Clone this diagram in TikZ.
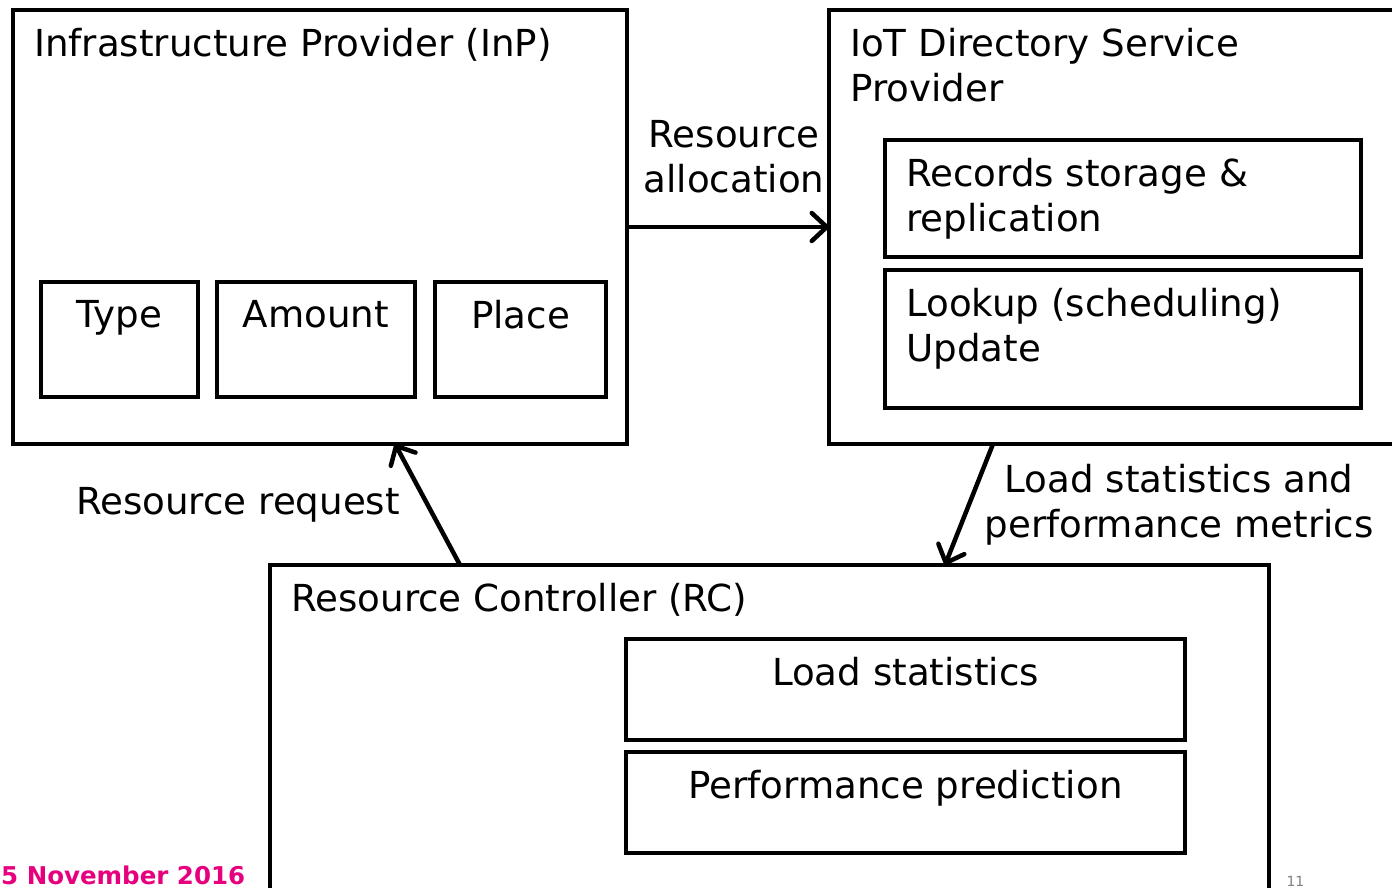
\documentclass[tikz,border=0pt]{standalone}
\usepackage{fontspec}
\setmainfont{DejaVu Sans}
\usetikzlibrary{arrows.meta,calc}
\definecolor{datepink}{RGB}{230,0,126}

\begin{document}
\begin{tikzpicture}[
    x=1pt, y=-1pt,
    every node/.style={font=\fontsize{37.2}{45}\selectfont},
    box/.style={rectangle, draw, line width=4.5pt, outer sep=0pt, inner sep=0pt, anchor=north west},
    title/.style={anchor=north west, inner xsep=21pt, inner ysep=18pt, align=left},
    caption/.style={anchor=north, inner sep=0pt, yshift=-18pt},
    flow/.style={line width=4.5pt, -{Straight Barb[length=15pt, width=28pt, round]}}
]
\useasboundingbox (0,0) rectangle (1392,888);

% infrastructure provider
\node [box, minimum width=614pt, minimum height=434pt,
       label={[title]north west:Infrastructure Provider (InP)}] (inp) at (13,10) {};
\node [box, minimum width=157pt, minimum height=115pt,
       label={[caption]north:Type}] (type) at (41,282) {};
\node [box, minimum width=198pt, minimum height=115pt,
       label={[caption]north:Amount}] (amount) at (217,282) {};
\node [box, minimum width=171pt, minimum height=115pt,
       label={[caption]north:Place}] (place) at (435,282) {};

% directory service provider
\node [box, minimum width=580pt, minimum height=434pt,
       label={[title]north west:IoT Directory Service\\Provider}] (iot) at (829,10) {};
\node [box, minimum width=476pt, minimum height=117pt,
       label={[title]north west:Records storage \&\\replication}] (records) at (885,140) {};
\node [box, minimum width=476pt, minimum height=138pt,
       label={[title]north west:Lookup (scheduling)\\Update}] (lookup) at (885,270) {};

% resource controller
\node [box, minimum width=999pt, minimum height=400pt,
       label={[title]north west:Resource Controller (RC)}] (rc) at (270,565) {};
\node [box, minimum width=559pt, minimum height=101pt,
       label={[caption]north:Load statistics}] (loadstat) at (626,639) {};
\node [box, minimum width=559pt, minimum height=101pt,
       label={[caption]north:Performance prediction}] (perf) at (626,752) {};

% arrows
\draw [flow] (inp) -- (iot)
    node [midway, above=28pt, xshift=6pt, align=center] (alloc) {Resource\\allocation};
\draw [flow] ($(rc.north west)+(190,0)$) -- ($(inp.south west)+(382,0)$)
    node [midway, left=22pt] (request) {Resource request};
\draw [flow] ($(iot.south west)+(164,0)$) -- ($(rc.north west)+(675,0)$)
    node [midway, right=10pt, align=center] (metrics) {Load statistics and\\performance metrics};

% footer
\node [anchor=base west, inner sep=1pt, text=datepink, font=\fontsize{24.5}{28}\selectfont\bfseries]
    (date) at (0,884) {5 November 2016};
\node [anchor=base west, text=gray, font=\fontsize{14}{16}\selectfont]
    (pagenum) at (1283,886) {11};

\end{tikzpicture}
\end{document}
